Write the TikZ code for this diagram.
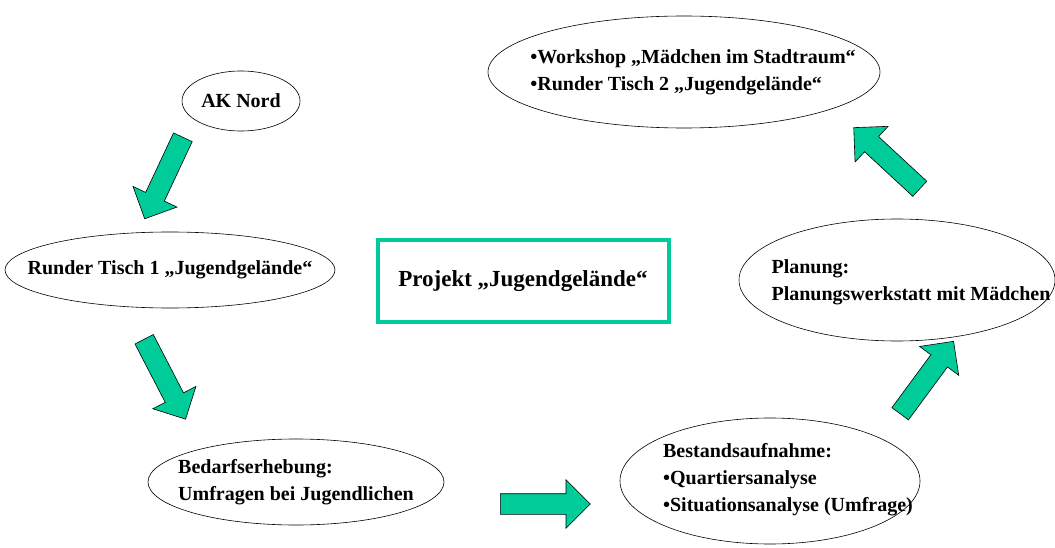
\documentclass[tikz,border=0pt]{standalone}
\usepackage{fontspec}
\setmainfont{Liberation Serif}
\usetikzlibrary{shapes.geometric,shapes.arrows}

\definecolor{projgreen}{RGB}{0,204,153}

\tikzset{
  bubble/.style={draw, ellipse, inner sep=0pt, line width=0.6pt},
  bubtext/.style={align=left, inner sep=0pt, font=\fontsize{20}{27}\selectfont\bfseries},
  greenarrow/.style={single arrow, draw, fill=projgreen, line width=0.6pt,
    minimum height=90pt, single arrow head extend=14pt,
    inner xsep=0pt, inner ysep=10pt, anchor=tail},
  projbox/.style={draw=projgreen, line width=4pt, minimum width=291pt, minimum height=82pt,
    font=\fontsize{23}{28}\selectfont\bfseries}
}

\begin{document}
\begin{tikzpicture}[x=1pt, y=-1pt]
  \useasboundingbox (0,0) rectangle (1055,548);

  % ellipses
  \node[bubble, minimum width=118pt, minimum height=60pt] (aknord) at (241,101) {};
  \node[bubtext] at (aknord) {AK Nord};

  \node[bubble, minimum width=330pt, minimum height=76pt] (tisch) at (170,270) {};
  \node[bubtext] at (tisch) {Runder Tisch 1 „Jugendgelände“};

  \node[bubble, minimum width=296pt, minimum height=86pt] (bedarf) at (296,482) {};
  \node[bubtext] at (bedarf) {Bedarfserhebung:\\Umfragen bei Jugendlichen};

  \node[bubble, minimum width=300pt, minimum height=126pt] (bestand) at (770,481) {};
  \node[bubtext] at ([xshift=18pt, yshift=1pt]bestand.center) {Bestandsaufnahme:\\•Quartiersanalyse\\•Situationsanalyse (Umfrage)};

  \node[bubble, minimum width=316pt, minimum height=122pt] (planung) at (897,280) {};
  \node[bubtext] at ([xshift=14pt, yshift=-2pt]planung.center) {Planung:\\Planungswerkstatt mit Mädchen};

  \node[bubble, minimum width=392pt, minimum height=112pt] (workshop) at (684,72) {};
  \node[bubtext] at ([xshift=9pt]workshop.center) {•Workshop „Mädchen im Stadtraum“\\•Runder Tisch 2 „Jugendgelände“};

  % project box
  \node[projbox] (projekt) at (523,281) {Projekt „Jugendgelände“};

  % block arrows
  \node[greenarrow, rotate=244.9] (arr1) at (183,137) {};
  \node[greenarrow, rotate=-62.6] (arr2) at (144,339) {};
  \node[greenarrow] (arr3) at (500,504) {};
  \node[greenarrow, rotate=53.6] (arr4) at (900,414) {};
  \node[greenarrow, rotate=137.2] (arr5) at (920,189) {};
\end{tikzpicture}
\end{document}
